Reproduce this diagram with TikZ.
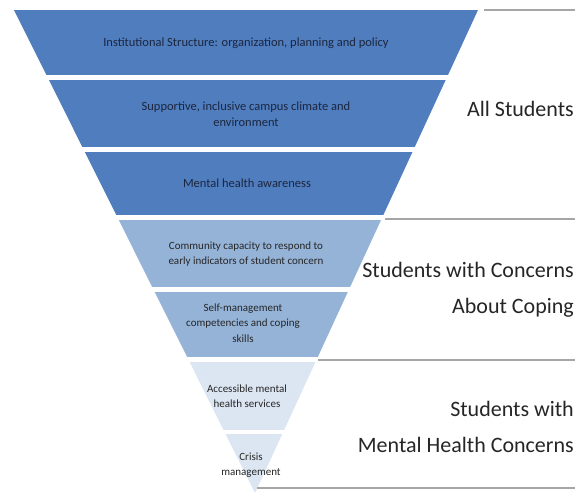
\documentclass[tikz,border=0pt]{standalone}
\usepackage{fontspec}
\setmainfont{Carlito}
\definecolor{tierdark}{HTML}{4F7DBD}
\definecolor{tiermid}{HTML}{95B3D7}
\definecolor{tierlight}{HTML}{DCE6F2}
\definecolor{inktext}{HTML}{1C2640}
\definecolor{rulegray}{HTML}{A6A6A6}
\begin{document}
\begin{tikzpicture}[x=1pt,y=-1pt,
  bandtext/.style={align=center,text=inktext,inner sep=0pt,font=\fontsize{12.5}{16}\selectfont},
  smalltext/.style={align=center,text=black!85,inner sep=0pt,font=\fontsize{11}{15.5}\selectfont},
  grouplabel/.style={anchor=east,align=right,text=black!85,inner sep=0pt,font=\fontsize{22}{36}\selectfont},
  sepline/.style={rulegray,line width=2.5pt}]
\useasboundingbox (0,0) rectangle (575,491);
\fill[white] (0,0) rectangle (575,491);

% inverted pyramid, cut into horizontal bands
\begin{scope}
  \clip (14,10) -- (478,10) -- (255,493) -- cycle;
  \fill[tierdark]  (0,10)  rectangle (575,75);
  \fill[tierdark]  (0,80)  rectangle (575,147);
  \fill[tierdark]  (0,152) rectangle (575,215);
  \fill[tiermid]   (0,220) rectangle (575,287);
  \fill[tiermid]   (0,292) rectangle (575,357);
  \fill[tierlight] (0,362) rectangle (575,430);
  \fill[tierlight] (0,434) rectangle (575,495);
\end{scope}

% band texts
\node[bandtext]  (b1) at (246,43)  {Institutional Structure: organization, planning and policy};
\node[bandtext]  (b2) at (246,114) {Supportive, inclusive campus climate and\\environment};
\node[bandtext]  (b3) at (247,183) {Mental health awareness};
\node[smalltext] (b4) at (246,254) {Community capacity to respond to\\early indicators of student concern};
\node[smalltext] (b5) at (243,323) {Self-management\\competencies and coping\\skills};
\node[smalltext] (b6) at (247,396) {Accessible mental\\health services};
\node[smalltext] (b7) at (251,465) {Crisis\\management};

% group separators
\coordinate (s1a) at (484,10);  \coordinate (s1b) at (575,10);
\coordinate (s2a) at (385,219); \coordinate (s2b) at (575,219);
\coordinate (s3a) at (318,360); \coordinate (s3b) at (575,360);
\coordinate (s4a) at (257,488); \coordinate (s4b) at (575,488);
\draw[sepline] (s1a) -- (s1b);
\draw[sepline] (s2a) -- (s2b);
\draw[sepline] (s3a) -- (s3b);
\draw[sepline] (s4a) -- (s4b);

% group labels
\node[grouplabel] (g1) at (574,109) {All Students};
\node[grouplabel] (g2) at (574,290) {Students with Concerns\\About Coping};
\node[grouplabel] (g3) at (574,427) {Students with\\Mental Health Concerns};
\end{tikzpicture}
\end{document}
